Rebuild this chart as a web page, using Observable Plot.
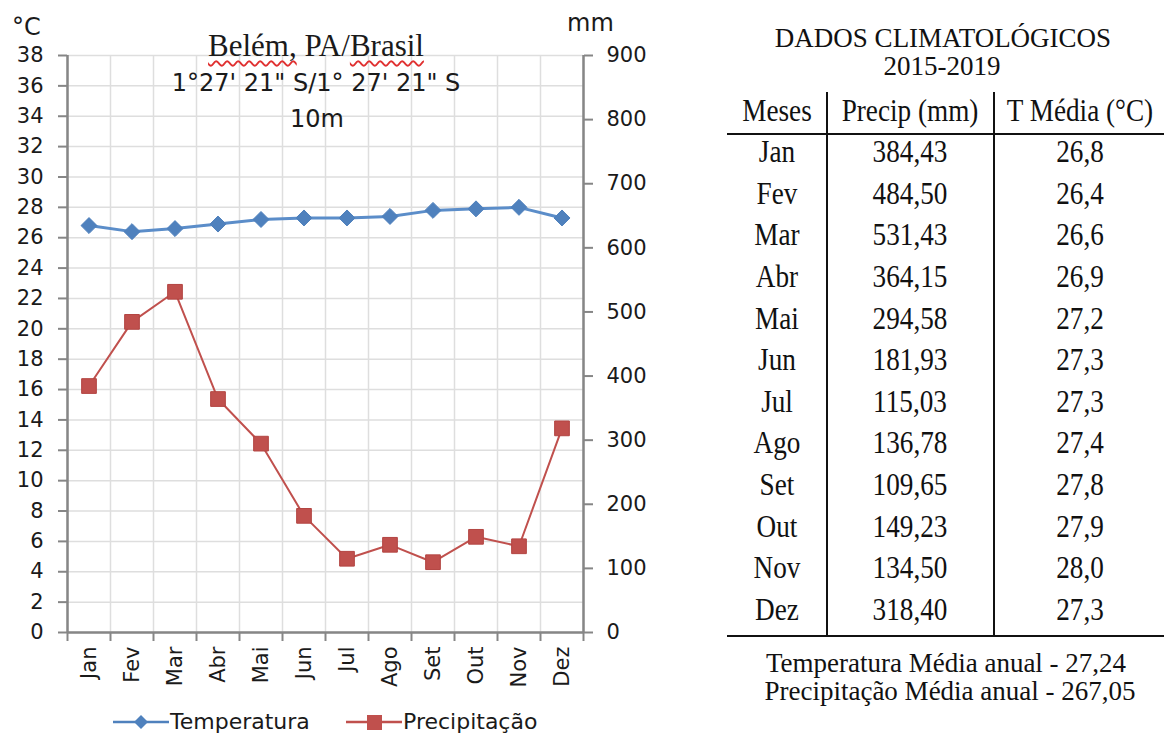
<!DOCTYPE html>
<html>
<head>
<meta charset="utf-8">
<script src="https://cdn.jsdelivr.net/npm/d3@7"></script>
<script src="https://cdn.jsdelivr.net/npm/@observablehq/plot@0.6"></script>
<style>
  html, body { margin: 0; padding: 0; background: #fff; }
  #root { position: relative; width: 1164px; height: 738px; overflow: hidden; background: #fff; }
  #chart { position: absolute; left: 0; top: 0; }
  .abs { position: absolute; white-space: nowrap; }
  .sans { font-family: "DejaVu Sans", sans-serif; color: #1a1a1a; }
  .serif { font-family: "Liberation Serif", "Times New Roman", serif; color: #111; }
  .hline { position: absolute; background: #111; height: 2.5px; }
  .vline { position: absolute; background: #111; width: 2.5px; }
</style>
</head>
<body>
<div id="root">
  <div id="chart"></div>
</div>
<script>
// ---- data ----
const months = ["Jan","Fev","Mar","Abr","Mai","Jun","Jul","Ago","Set","Out","Nov","Dez"];
const precipitation = [384.43, 484.50, 531.43, 364.15, 294.58, 181.93, 115.03, 136.78, 109.65, 149.23, 134.50, 318.40];
const temperature = [26.8, 26.4, 26.6, 26.9, 27.2, 27.3, 27.3, 27.4, 27.8, 27.9, 28.0, 27.3];
const tempTicks = d3.range(0, 39, 2);          // 0..38 °C
const mmTicks = d3.range(0, 901, 100);         // 0..900 mm
const tableTitle = ["DADOS CLIMATOLÓGICOS", "2015-2019"];
const tableHeaders = ["Meses", "Precip (mm)", "T Média (°C)"];
const footerLines = ["Temperatura Média anual - 27,24", "Precipitação Média anual - 267,05"];
const chartTitle = ["1°27' 21\" S/1° 27' 21\" S", "10m"];
const seriesNames = ["Temperatura", "Precipitação"];

const TMAX = 38, PMAX = 900;
const data = months.map((m, i) => ({i, m, t: temperature[i], p: precipitation[i]}));
const boundaries = d3.range(-0.5, 12, 1);

const blue = "#4F81BD", red = "#C0504D", axisGray = "#868686", gridGray = "#dedede";

const chart = Plot.plot({
  width: 680,
  height: 738,
  marginLeft: 67,
  marginRight: 97,
  marginTop: 55,
  marginBottom: 106,
  style: {fontFamily: "DejaVu Sans, sans-serif", fontSize: "21px", color: "#1a1a1a", background: "transparent", overflow: "visible"},
  x: {type: "linear", domain: [-0.5, 11.5]},
  y: {type: "linear", domain: [0, TMAX]},
  marks: [
    Plot.gridY(tempTicks, {stroke: gridGray, strokeOpacity: 1, strokeWidth: 1.5}),
    Plot.gridX(boundaries, {stroke: gridGray, strokeOpacity: 1, strokeWidth: 1.5}),
    Plot.axisY(tempTicks, {anchor: "left", label: null, tickSize: 9, tickPadding: 15, stroke: axisGray, strokeWidth: 2}),
    Plot.axisY(mmTicks.map(v => v * TMAX / PMAX), {anchor: "right", label: null, tickSize: 9, tickPadding: 14, stroke: axisGray, strokeWidth: 2,
      tickFormat: v => String(Math.round(v * PMAX / TMAX))}),
    Plot.axisX(boundaries, {anchor: "bottom", label: null, tickSize: 9, tickFormat: () => "", stroke: axisGray, strokeWidth: 2}),
    Plot.axisX(d3.range(12), {anchor: "bottom", label: null, tickSize: 0, tickPadding: 14, tickRotate: -90, tickFormat: i => months[i]}),
    Plot.ruleX([-0.5, 11.5], {stroke: axisGray, strokeWidth: 2.5}),
    Plot.ruleY([0], {stroke: axisGray, strokeWidth: 2.5, x1: -0.5, x2: 11.5}),
    Plot.line(data, {x: "i", y: "t", stroke: "#5b8dc9", strokeWidth: 3}),
    Plot.dot(data, {x: "i", y: "t", symbol: "diamond2", r: 7.2, fill: blue, stroke: blue, strokeWidth: 1}),
    Plot.line(data, {x: "i", y: d => d.p * TMAX / PMAX, stroke: red, strokeWidth: 2}),
    Plot.dot(data, {x: "i", y: d => d.p * TMAX / PMAX, symbol: "square", r: 8.3, fill: red, stroke: "#b34542", strokeWidth: 1})
  ]
});
document.getElementById("chart").appendChild(chart);

const root = document.getElementById("root");
function addText(text, cls, style) {
  const d = document.createElement("div");
  d.className = "abs " + cls;
  d.textContent = text;
  Object.assign(d.style, style);
  root.appendChild(d);
  return d;
}

// chart overlays
addText("°C", "sans", {left: "12px", top: "15px", fontSize: "24px", lineHeight: "24px"});
addText("mm", "sans", {left: "567px", top: "11px", fontSize: "24px", lineHeight: "24px"});
const t1 = document.createElement("div");
t1.className = "abs serif";
Object.assign(t1.style, {left: "316px", top: "30px", fontSize: "31px", lineHeight: "31px", transform: "translateX(-50%)", color: "#1a1a1a"});
const wavy = "underline wavy #e03030";
t1.innerHTML = `<span style="text-decoration:${wavy};text-decoration-skip-ink:none;text-underline-offset:4px;text-decoration-thickness:1.5px">Belém,</span> PA/<span style="text-decoration:${wavy};text-decoration-skip-ink:none;text-underline-offset:4px;text-decoration-thickness:1.5px">Brasil</span>`;
root.appendChild(t1);
addText(chartTitle[0], "sans", {left: "316px", top: "71px", fontSize: "24px", lineHeight: "24px", transform: "translateX(-50%)"});
addText(chartTitle[1], "sans", {left: "317px", top: "107px", fontSize: "24px", lineHeight: "24px", transform: "translateX(-50%)"});

// legend
function legendSym(left, color, kind) {
  const ns = "http://www.w3.org/2000/svg";
  const s = document.createElementNS(ns, "svg");
  s.setAttribute("width", 56); s.setAttribute("height", 20);
  s.style.position = "absolute"; s.style.left = left + "px"; s.style.top = "712px";
  s.innerHTML = `<line x1="0" y1="10" x2="56" y2="10" stroke="${color}" stroke-width="2.5"/>` +
    (kind === "diamond"
      ? `<path d="M28,3 L35,10 L28,17 L21,10 Z" fill="${color}"/>`
      : `<rect x="21" y="3" width="15" height="15" fill="${color}"/>`);
  root.appendChild(s);
}
legendSym(113, blue, "diamond");
addText(seriesNames[0], "sans", {left: "170px", top: "711px", fontSize: "22px", lineHeight: "22px"});
legendSym(346, red, "square");
addText(seriesNames[1], "sans", {left: "403px", top: "711px", fontSize: "22px", lineHeight: "22px"});

// table
const colCenters = [777, 910, 1080];
addText(tableTitle[0], "serif", {left: "943px", top: "25px", fontSize: "27px", lineHeight: "27px", transform: "translateX(-50%)"});
addText(tableTitle[1], "serif", {left: "942px", top: "53px", fontSize: "27px", lineHeight: "27px", transform: "translateX(-50%)"});
const rowH = 41.6, firstRow = 152, headerCenter = 111;
function cell(text, cx, cy) {
  return addText(text, "serif", {left: cx + "px", top: (cy - rowH / 2) + "px", height: rowH + "px", lineHeight: rowH + "px",
    fontSize: "32px", transform: "translateX(-50%) scaleX(0.85)"});
}
tableHeaders.forEach((h, j) => cell(h, colCenters[j], headerCenter));
data.forEach((d, k) => {
  const cy = firstRow + k * rowH;
  cell(d.m, colCenters[0], cy);
  cell(d.p.toFixed(2).replace(".", ","), colCenters[1], cy);
  cell(d.t.toFixed(1).replace(".", ","), colCenters[2], cy);
});
function hline(y) { const e = document.createElement("div"); e.className = "hline"; Object.assign(e.style, {left: "727px", width: "437px", top: (y - 1.25) + "px"}); root.appendChild(e); }
function vline(x) { const e = document.createElement("div"); e.className = "vline"; Object.assign(e.style, {left: (x - 1.25) + "px", top: "92px", height: "545px"}); root.appendChild(e); }
hline(134); hline(636); vline(827); vline(994);
addText(footerLines[0], "serif", {left: "946px", top: "650px", fontSize: "27px", lineHeight: "27px", transform: "translateX(-50%)"});
addText(footerLines[1], "serif", {left: "950px", top: "678px", fontSize: "27px", lineHeight: "27px", transform: "translateX(-50%)"});
</script>
</body>
</html>
